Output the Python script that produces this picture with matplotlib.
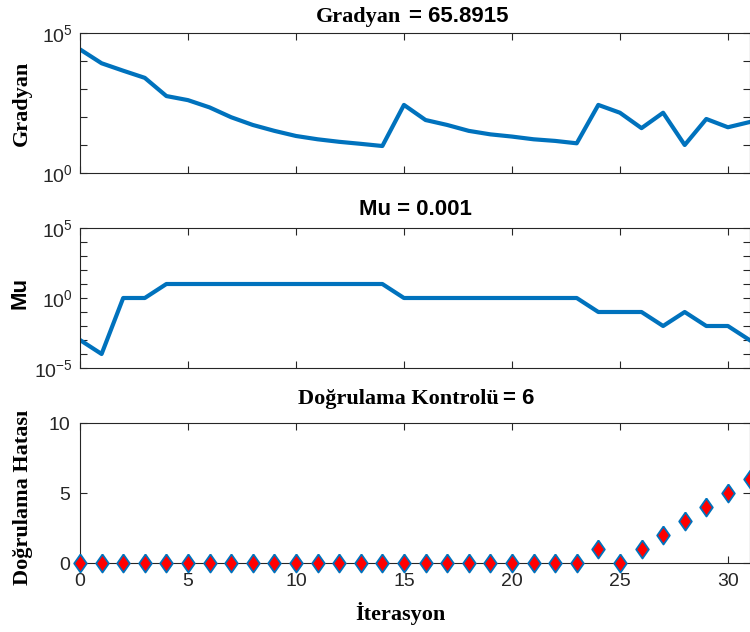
import matplotlib
matplotlib.use('Agg')
import matplotlib.pyplot as plt
import numpy as np

# ---- data ----
iters = list(range(32))
gradyan = [2.6e4, 8.3e3, 4.5e3, 2.5e3, 560, 400, 220, 98, 52, 32,
           21, 16, 13, 11, 9.2, 270, 78, 52, 32, 24,
           20, 16, 14, 11.5, 270, 142, 40, 142, 10, 85,
           43, 65.8915]
mu = [1e-3, 1e-4, 1, 1, 10, 10, 10, 10, 10, 10,
      10, 10, 10, 10, 10, 1, 1, 1, 1, 1,
      1, 1, 1, 1, 0.1, 0.1, 0.1, 0.01, 0.1, 0.01,
      0.01, 0.001]
dogrulama = [0]*24 + [1, 0, 1, 2, 3, 4, 5, 6]

blue = '#0072BD'
grey = '#262626'
serif = 'Liberation Serif'
sans = 'Liberation Sans'

plt.rcParams['font.family'] = sans
plt.rcParams['mathtext.fontset'] = 'custom'
plt.rcParams['mathtext.rm'] = sans
plt.rcParams['mathtext.default'] = 'regular'

W, H = 750, 632
fig = plt.figure(figsize=(7.5, 6.32), dpi=100)

def box(top, bottom):
    return [80/W, 1 - bottom/H, 669.5/W, (bottom - top)/H]

def style(ax):
    ax.tick_params(which='both', direction='in', top=True, right=True,
                   labelsize=14, labelcolor=grey, color=grey, length=5, pad=7)
    ax.tick_params(which='minor', length=0)
    for s in ax.spines.values():
        s.set_color(grey)
        s.set_linewidth(0.8)
    ax.set_xlim(0, 31)
    ax.set_xticks([0, 5, 10, 15, 20, 25, 30])

def loglabel(k):
    return r'$10^{%d}$' % k

# Gradyan
ax1 = fig.add_axes(box(33, 173))
ax1.plot(iters, gradyan, color=blue, lw=3)
ax1.set_yscale('log')
ax1.set_ylim(1, 1e5)
ax1.set_yticks([10.0**k for k in range(0, 6)])
ax1.set_yticklabels([loglabel(k) if k in (0, 5) else '' for k in range(0, 6)])
style(ax1)
ax1.tick_params(axis='y', labelsize=14, pad=5)
ax1.set_xticklabels([])

# Mu
ax2 = fig.add_axes(box(228, 368))
ax2.plot(iters, mu, color=blue, lw=3)
ax2.set_yscale('log')
ax2.set_ylim(1e-5, 1e5)
ax2.set_yticks([10.0**k for k in range(-5, 6)])
ax2.set_yticklabels([loglabel(k) if k in (-5, 0, 5) else '' for k in range(-5, 6)])
style(ax2)
ax2.tick_params(axis='y', labelsize=14, pad=5)
ax2.set_xticklabels([])

# Dogrulama
diamond = [(0, 1), (0.7, 0), (0, -1), (-0.7, 0), (0, 1)]
ax3 = fig.add_axes(box(423, 563))
ax3.plot(iters, dogrulama, linestyle='none', marker=diamond, markersize=13,
         markerfacecolor='red', markeredgecolor=blue, markeredgewidth=1.3,
         clip_on=False, zorder=5)
ax3.set_ylim(0, 10)
ax3.set_yticks([0, 5, 10])
style(ax3)

def fx(px):
    return px / W

def fy(py):
    return 1 - py / H

# titles (serif + sans mix)
fig.text(fx(401), fy(22), 'Gradyan', family=serif, weight='bold', fontsize=16,
         ha='right', va='baseline')
fig.text(fx(409), fy(22), '= 65.8915', family=sans, weight='bold', fontsize=16,
         ha='left', va='baseline')
fig.text(fx(415), fy(215), 'Mu = 0.001', family=sans, weight='bold', fontsize=16,
         ha='center', va='baseline')
fig.text(fx(499), fy(404), 'Doğrulama Kontrolü', family=serif, weight='bold',
         fontsize=16, ha='right', va='baseline')
fig.text(fx(503), fy(404), '= 6', family=sans, weight='bold', fontsize=16,
         ha='left', va='baseline')

# axis labels
fig.text(fx(22), fy(103), 'Gradyan', family=serif, weight='bold', fontsize=16,
         rotation=90, ha='center', va='center')
fig.text(fx(20), fy(293), 'Mu', family=sans, weight='bold', fontsize=16,
         rotation=90, ha='center', va='center')
fig.text(fx(23), fy(497), 'Doğrulama Hatası', family=serif, weight='bold',
         fontsize=16, rotation=90, ha='center', va='center')
fig.text(fx(400), fy(620), 'İterasyon', family=serif, weight='bold', fontsize=16,
         ha='center', va='baseline')

fig.savefig('out.png', dpi=100)
